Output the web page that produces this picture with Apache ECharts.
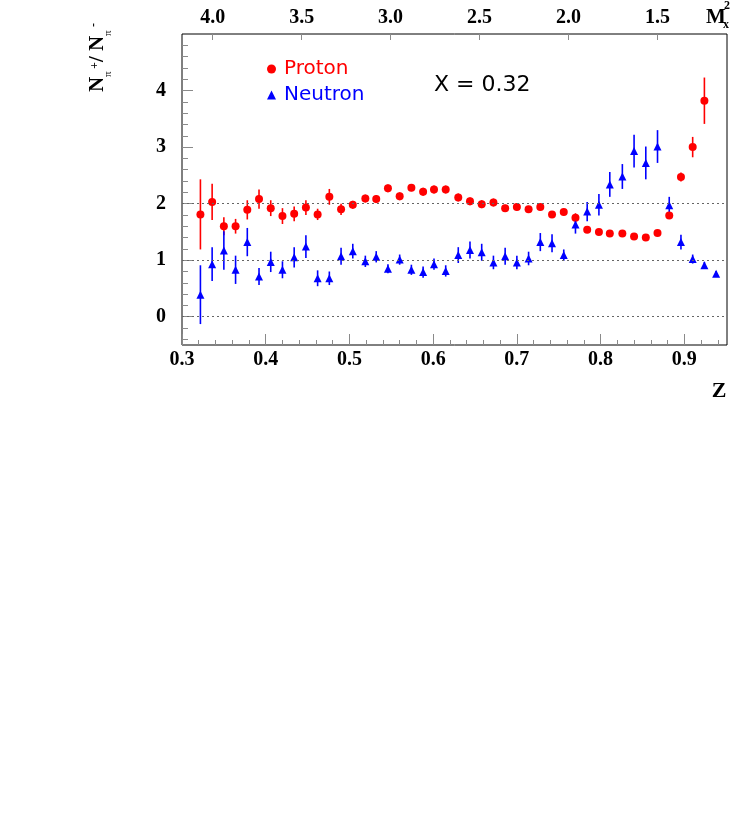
<!DOCTYPE html>
<html>
<head>
<meta charset="utf-8">
<script src="https://cdn.jsdelivr.net/npm/echarts@6.0.0/dist/echarts.min.js"></script>
<style>
  html, body { margin: 0; padding: 0; background: #fff; }
  #chart { width: 734px; height: 818px; }
</style>
</head>
<body>
<div id="chart"></div>
<script>
// z bin centres
const zBins = [0.322, 0.336, 0.350, 0.364, 0.378, 0.392, 0.406, 0.420, 0.434, 0.448,
  0.462, 0.476, 0.490, 0.504, 0.519, 0.532, 0.546, 0.560, 0.574, 0.588,
  0.601, 0.615, 0.630, 0.644, 0.658, 0.672, 0.686, 0.700, 0.714, 0.728,
  0.742, 0.756, 0.770, 0.784, 0.798, 0.811, 0.826, 0.840, 0.854, 0.868,
  0.882, 0.896, 0.910, 0.924, 0.938];

// proton target N(pi+)/N(pi-)
const protonRatio = [1.81, 2.03, 1.60, 1.60, 1.89, 2.08, 1.92, 1.78, 1.82, 1.93,
  1.81, 2.12, 1.90, 1.98, 2.09, 2.08, 2.27, 2.13, 2.28, 2.21,
  2.25, 2.25, 2.11, 2.04, 1.99, 2.02, 1.92, 1.94, 1.90, 1.94,
  1.81, 1.85, 1.75, 1.54, 1.50, 1.47, 1.47, 1.42, 1.40, 1.48,
  1.79, 2.47, 3.00, 3.82];
const protonErr = [0.62, 0.32, 0.16, 0.13, 0.17, 0.17, 0.14, 0.14, 0.13, 0.13,
  0.10, 0.14, 0.10, 0.07, 0.07, 0.07, 0.07, 0.07, 0.06, 0.07,
  0.07, 0.07, 0.07, 0.07, 0.07, 0.07, 0.06, 0.06, 0.06, 0.06,
  0.06, 0.06, 0.08, 0.05, 0.05, 0.05, 0.05, 0.05, 0.05, 0.05,
  0.06, 0.08, 0.18, 0.41];

// neutron target N(pi+)/N(pi-)
const neutronRatio = [0.39, 0.93, 1.17, 0.83, 1.32, 0.71, 0.97, 0.83, 1.05, 1.24,
  0.68, 0.68, 1.07, 1.16, 0.98, 1.06, 0.85, 1.01, 0.83, 0.79,
  0.93, 0.81, 1.09, 1.18, 1.14, 0.96, 1.07, 0.96, 1.03, 1.32,
  1.30, 1.09, 1.63, 1.86, 1.98, 2.34, 2.48, 2.93, 2.72, 3.01,
  1.97, 1.32, 1.02, 0.91, 0.76];
const neutronErr = [0.52, 0.30, 0.34, 0.25, 0.25, 0.15, 0.18, 0.15, 0.18, 0.20,
  0.14, 0.12, 0.15, 0.13, 0.10, 0.10, 0.08, 0.09, 0.09, 0.10,
  0.10, 0.10, 0.14, 0.15, 0.15, 0.12, 0.15, 0.12, 0.12, 0.16,
  0.16, 0.10, 0.16, 0.17, 0.19, 0.22, 0.22, 0.29, 0.29, 0.29,
  0.15, 0.13, 0.08, 0.06, 0.05];

const zTicks = [0.3, 0.4, 0.5, 0.6, 0.7, 0.8, 0.9];
const mx2Ticks = [4.0, 3.5, 3.0, 2.5, 2.0, 1.5];
const yTicks = [0, 1, 2, 3, 4];
const refLines = [0, 1, 2];

// minor ticks
const zMinor = [];
for (let i = 16; i <= 47; i++) {
  if (i % 5 !== 0) zMinor.push(Math.round(i * 2) / 100);
}
const yMinor = [];
for (let i = -2; i <= 24; i++) {
  if (i % 5 !== 0) yMinor.push(Math.round(i * 2) / 10);
}

const RED = '#ff0000';
const BLUE = '#0000ff';
const serif = 'Liberation Serif';
const tickColor = '#8a8a8a';

const chart = echarts.init(document.getElementById('chart'));

const errBars = (color) => (params, api) => {
  const lo = api.coord([api.value(0), api.value(1) - api.value(2)]);
  const hi = api.coord([api.value(0), api.value(1) + api.value(2)]);
  return {
    type: 'line',
    shape: { x1: lo[0], y1: lo[1], x2: hi[0], y2: hi[1] },
    style: { stroke: color, lineWidth: 1.6 }
  };
};

const protonPts = protonRatio.map((v, i) => [zBins[i], v]);
const protonBars = protonRatio.map((v, i) => [zBins[i], v, protonErr[i]]);
const neutronPts = neutronRatio.map((v, i) => [zBins[i], v]);
const neutronBars = neutronRatio.map((v, i) => [zBins[i], v, neutronErr[i]]);

const axisFont = { fontFamily: serif, fontWeight: 'bold', fontSize: 20, color: '#000' };
const noLine = { show: false, onZero: false };

const option = {
  animation: false,
  grid: {
    left: 182, right: 7, top: 34, bottom: 473,
    show: true, borderColor: '#000', borderWidth: 1
  },
  legend: {
    left: 262, top: 54, orient: 'vertical',
    itemWidth: 9, itemHeight: 9, itemGap: 6,
    selectedMode: false,
    textStyle: { fontFamily: 'DejaVu Sans', fontSize: 20, lineHeight: 20, padding: [0, 0, 0, 3] },
    data: [
      { name: 'Proton', textStyle: { color: RED } },
      { name: 'Neutron', textStyle: { color: BLUE } }
    ]
  },
  xAxis: [
    {
      type: 'value', position: 'bottom', min: 0.3, max: 0.951,
      axisLine: noLine,
      splitLine: { show: false },
      axisTick: { inside: true, length: 11, customValues: zTicks, lineStyle: { color: tickColor } },
      axisLabel: Object.assign({ customValues: zTicks, margin: 5, formatter: (v) => v.toFixed(1) }, axisFont)
    },
    {
      type: 'value', position: 'bottom', min: 0.3, max: 0.951,
      axisLine: noLine,
      splitLine: { show: false },
      axisLabel: { show: false },
      axisTick: { inside: true, length: 5, customValues: zMinor, lineStyle: { color: tickColor } }
    },
    {
      type: 'value', position: 'top', min: 1.109, max: 4.1725, inverse: true,
      axisLine: noLine,
      splitLine: { show: false },
      axisTick: { inside: true, length: 6, customValues: mx2Ticks, lineStyle: { color: tickColor } },
      axisLabel: Object.assign({ customValues: mx2Ticks, margin: 6, formatter: (v) => v.toFixed(1) }, axisFont)
    }
  ],
  yAxis: [
    {
      type: 'value', position: 'left', min: -0.5, max: 5,
      axisLine: noLine,
      splitLine: { show: false },
      axisTick: { inside: true, length: 11, customValues: yTicks, lineStyle: { color: tickColor } },
      axisLabel: Object.assign({ customValues: yTicks, margin: 16 }, axisFont)
    },
    {
      type: 'value', position: 'left', min: -0.5, max: 5,
      axisLine: noLine,
      splitLine: { show: false },
      axisLabel: { show: false },
      axisTick: { inside: true, length: 6, customValues: yMinor, lineStyle: { color: tickColor } }
    }
  ],
  series: [
    {
      type: 'custom', name: 'protonErr', xAxisIndex: 0, yAxisIndex: 0,
      renderItem: errBars(RED), encode: { x: 0, y: 1 }, data: protonBars,
      markLine: {
        silent: true, symbol: 'none', label: { show: false },
        lineStyle: { type: [2, 3], color: '#666', width: 1 },
        data: refLines.map((v) => ({ yAxis: v }))
      }
    },
    {
      type: 'scatter', name: 'Proton', xAxisIndex: 0, yAxisIndex: 0,
      symbol: 'circle', symbolSize: 8, itemStyle: { color: RED, opacity: 1 },
      data: protonPts
    },
    {
      type: 'custom', name: 'neutronErr', xAxisIndex: 0, yAxisIndex: 0,
      renderItem: errBars(BLUE), encode: { x: 0, y: 1 }, data: neutronBars
    },
    {
      type: 'scatter', name: 'Neutron', xAxisIndex: 0, yAxisIndex: 0,
      symbol: 'triangle', symbolSize: 8, itemStyle: { color: BLUE, opacity: 1 },
      data: neutronPts
    }
  ],
  graphic: [
    {
      type: 'text', x: 434, y: 85,
      style: { text: 'X = 0.32', font: '22px "DejaVu Sans"', fill: '#000', verticalAlign: 'middle' }
    },
    {
      type: 'text', x: 719, y: 391,
      style: { text: 'Z', font: 'bold 22px "Liberation Serif"', fill: '#000', align: 'center', verticalAlign: 'middle' }
    },
    {
      type: 'text', x: 706, y: 18,
      style: { text: 'M', font: 'bold 21px "Liberation Serif"', fill: '#000', verticalAlign: 'middle' }
    },
    {
      type: 'text', x: 723, y: 25,
      style: { text: 'x', font: 'bold 12px "Liberation Serif"', fill: '#000', verticalAlign: 'middle' }
    },
    {
      type: 'text', x: 724, y: 6,
      style: { text: '2', font: 'bold 12px "Liberation Serif"', fill: '#000', verticalAlign: 'middle' }
    },
    {
      type: 'group', x: 98, y: 92, rotation: Math.PI / 2,
      children: [
        { type: 'text', x: 0, y: 0, style: { text: 'N', font: 'bold 21px "Liberation Serif"', fill: '#000', verticalAlign: 'middle' } },
        { type: 'text', x: 15, y: 10, style: { text: 'π', font: '11px "Liberation Serif"', fill: '#000', verticalAlign: 'middle' } },
        { type: 'text', x: 23, y: -3, style: { text: '+', font: 'bold 12px "Liberation Serif"', fill: '#000', verticalAlign: 'middle' } },
        { type: 'text', x: 30, y: 0, style: { text: '/', font: 'bold 21px "Liberation Serif"', fill: '#000', verticalAlign: 'middle' } },
        { type: 'text', x: 41, y: 0, style: { text: 'N', font: 'bold 21px "Liberation Serif"', fill: '#000', verticalAlign: 'middle' } },
        { type: 'text', x: 56, y: 10, style: { text: 'π', font: '11px "Liberation Serif"', fill: '#000', verticalAlign: 'middle' } },
        { type: 'text', x: 65, y: -4, style: { text: '-', font: 'bold 12px "Liberation Serif"', fill: '#000', verticalAlign: 'middle' } }
      ]
    }
  ]
};

chart.setOption(option);
</script>
</body>
</html>
